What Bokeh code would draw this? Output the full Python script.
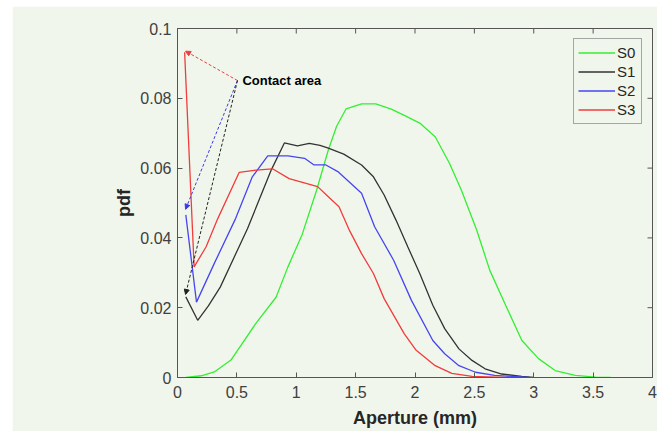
from bokeh.plotting import figure
from bokeh.models import (Range1d, Legend, LegendItem, Arrow, NormalHead,
                          Label, Spacer, FixedTicker)
from bokeh.layouts import column, row
from bokeh.embed import file_html
from bokeh.resources import INLINE

# Aperture pdf curves for the four stages
s0_x = [0.07, 0.20, 0.31, 0.45, 0.66, 0.83, 0.93, 1.05, 1.17, 1.27, 1.34, 1.42,
        1.55, 1.67, 1.80, 1.91, 2.04, 2.17, 2.29, 2.39, 2.52, 2.63, 2.77, 2.90,
        3.04, 3.18, 3.35, 3.52, 3.65]
s0_y = [0.0000, 0.0005, 0.0016, 0.0050, 0.0155, 0.0230, 0.0317, 0.0410, 0.0535,
        0.0652, 0.0720, 0.0770, 0.0784, 0.0784, 0.0769, 0.0751, 0.0729, 0.0690,
        0.0614, 0.0537, 0.0422, 0.0307, 0.0202, 0.0106, 0.0054, 0.0020, 0.0006,
        0.0001, 0.0000]

s1_x = [0.07, 0.17, 0.26, 0.36, 0.59, 0.79, 0.90, 1.01, 1.11, 1.20, 1.27, 1.40,
        1.55, 1.65, 1.74, 1.84, 1.94, 2.04, 2.15, 2.25, 2.37, 2.48, 2.59, 2.73,
        2.90, 3.00]
s1_y = [0.0231, 0.0164, 0.0205, 0.0259, 0.0427, 0.0595, 0.0672, 0.0664, 0.0671,
        0.0665, 0.0657, 0.0640, 0.0609, 0.0575, 0.0523, 0.0451, 0.0374, 0.0298,
        0.0207, 0.0140, 0.0082, 0.0049, 0.0025, 0.0010, 0.0003, 0.0000]

s2_x = [0.07, 0.16, 0.31, 0.49, 0.63, 0.76, 0.93, 1.07, 1.15, 1.25, 1.35, 1.55,
        1.66, 1.82, 1.97, 2.15, 2.25, 2.37, 2.51, 2.67, 2.96]
s2_y = [0.0466, 0.0216, 0.0327, 0.0456, 0.0575, 0.0635, 0.0635, 0.0628, 0.0609,
        0.0609, 0.0590, 0.0528, 0.0432, 0.0336, 0.0221, 0.0106, 0.0068, 0.0034,
        0.0015, 0.0006, 0.0000]

s3_x = [0.06, 0.14, 0.24, 0.34, 0.52, 0.66, 0.80, 0.94, 1.18, 1.27, 1.36, 1.45,
        1.55, 1.65, 1.74, 1.91, 2.01, 2.17, 2.31, 2.48, 2.75]
s3_y = [0.0932, 0.0317, 0.0374, 0.0456, 0.0588, 0.0594, 0.0598, 0.0570, 0.0547,
        0.0518, 0.0489, 0.0420, 0.0355, 0.0298, 0.0226, 0.0125, 0.0078, 0.0034,
        0.0012, 0.0003, 0.0000]

series_names = ["S0", "S1", "S2", "S3"]
series_colors = ["#33ee33", "#333333", "#4646f0", "#f03c3c"]

x_ticks = [0, 0.5, 1, 1.5, 2, 2.5, 3, 3.5, 4]
y_ticks = [0, 0.02, 0.04, 0.06, 0.08, 0.1]

# "Contact area" callout: text anchor and the arrow tips on each curve's first bin
callout_text = "Contact area"
callout_x, callout_y = 0.505, 0.0851
callout_tips_x = [0.068, 0.068, 0.068]
callout_tips_y = [0.0935, 0.0482, 0.0238]
callout_colors = ["#f03c3c", "#3a3ae8", "#222222"]

BG = "#f1f6ec"
AX = "#555555"
FONT = "Liberation Sans"

p = figure(width=645, height=425, output_backend="svg", toolbar_location=None,
           x_range=Range1d(0, 4), y_range=Range1d(0, 0.1),
           min_border_left=165, min_border_right=5, min_border_top=22,
           min_border_bottom=54)
p.background_fill_color = BG
p.border_fill_color = BG
p.outline_line_color = AX
p.outline_line_width = 1
p.grid.visible = False

for ax, ticks in ((p.xaxis[0], x_ticks), (p.yaxis[0], y_ticks)):
    ax.ticker = FixedTicker(ticks=ticks)
    ax.major_tick_in = 5
    ax.major_tick_out = 0
    ax.minor_tick_line_color = None
    ax.axis_line_color = AX
    ax.major_tick_line_color = AX
    ax.major_label_text_font = FONT
    ax.major_label_text_font_size = "16px"
    ax.major_label_text_color = "#404040"
    ax.axis_label_text_font = FONT
    ax.axis_label_text_font_size = "18px"
    ax.axis_label_text_font_style = "bold"
    ax.axis_label_text_color = "#262626"

p.xaxis.axis_label = "Aperture (mm)"
p.xaxis.major_label_standoff = 8
p.xaxis.axis_label_standoff = 7
p.yaxis.axis_label = "pdf"
p.yaxis.major_label_standoff = 6
p.yaxis.axis_label_standoff = 3
p.xaxis.major_label_overrides = {0: "0", 0.5: "0.5", 1: "1", 1.5: "1.5", 2: "2",
                                 2.5: "2.5", 3: "3", 3.5: "3.5", 4: "4"}
p.yaxis.major_label_overrides = {0: "0", 0.02: "0.02", 0.04: "0.04",
                                 0.06: "0.06", 0.08: "0.08", 0.1: "0.1"}

# inward ticks along the top and right edges of the box
tick_dx = 5 / 475 * 4
tick_dy = 5 / 349 * 0.1
p.segment(x0=x_ticks, y0=[0.1] * len(x_ticks), x1=x_ticks,
          y1=[0.1 - tick_dy] * len(x_ticks), line_color=AX, line_width=1)
p.segment(x0=[4] * len(y_ticks), y0=y_ticks, x1=[4 - tick_dx] * len(y_ticks),
          y1=y_ticks, line_color=AX, line_width=1)

renderers = []
for xs, ys, c in zip((s0_x, s1_x, s2_x, s3_x), (s0_y, s1_y, s2_y, s3_y),
                     series_colors):
    renderers.append(p.line(xs, ys, line_color=c, line_width=1.3))

for tx, ty, c in zip(callout_tips_x, callout_tips_y, callout_colors):
    p.add_layout(Arrow(x_start=callout_x, y_start=callout_y, x_end=tx, y_end=ty,
                       line_color=c, line_width=1, line_dash="3 2",
                       end=NormalHead(size=5, fill_color=c, line_color=c,
                                      line_width=1)))

p.add_layout(Label(x=callout_x, y=callout_y, text=callout_text, x_offset=5,
                   text_font=FONT, text_font_size="13px",
                   text_font_style="bold", text_color="#000000",
                   text_baseline="middle"))

legend = Legend(items=[LegendItem(label=n, renderers=[r])
                       for n, r in zip(series_names, renderers)],
                location="top_right", margin=10, padding=4, spacing=0,
                glyph_width=37, glyph_height=19, label_height=19,
                label_standoff=2, label_text_font=FONT,
                label_text_font_size="15px", label_text_color="#262626",
                border_line_color=AX, border_line_width=1,
                background_fill_color=BG, background_fill_alpha=1)
p.add_layout(legend)

page = column(Spacer(height=6), row(Spacer(width=12), p))
open("out.html", "w").write(file_html(page, INLINE))
